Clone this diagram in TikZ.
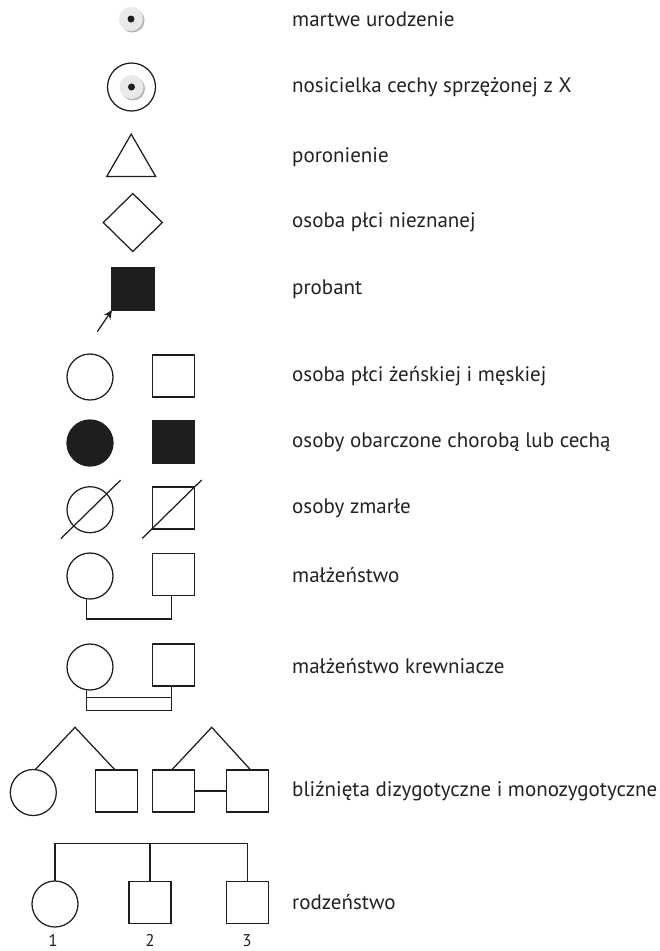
\documentclass[tikz,border=0pt]{standalone}
\usepackage{fontspec}
\setmainfont{PT Sans}
\usetikzlibrary{shapes.geometric,arrows.meta}
\definecolor{ink}{HTML}{1E1E1E}
\definecolor{txt}{HTML}{222222}
\definecolor{pale}{HTML}{E9E9E9}
\definecolor{shade}{HTML}{B4B4B4}
\tikzset{
  sym/.style={draw=ink, line width=1.25pt, inner sep=0pt, outer sep=0pt},
  fem/.style={sym, circle, minimum size=46pt},
  mal/.style={sym, rectangle, minimum size=42pt},
  filled/.style={fill=ink},
  lab/.style={anchor=west, inner sep=0pt, text=txt, font=\fontsize{21}{24}\selectfont},
  num/.style={anchor=base, inner sep=0pt, text=txt, font=\fontsize{17}{20}\selectfont},
  ln/.style={draw=ink, line width=1.25pt},
  dotc/.style={circle, fill=pale, minimum size=24pt, inner sep=0pt},
  dotsh/.style={circle, fill=shade, minimum size=24pt, inner sep=0pt},
  blk/.style={circle, fill=ink, minimum size=7pt, inner sep=0pt}
}
\begin{document}
\begin{tikzpicture}[x=1pt,y=-1pt]
\path[use as bounding box] (0,0) rectangle (660,951);

% row 1: stillbirth
\node[dotsh] (sb1s) at (132.5,20.5) {};
\node[dotc] (sb1) at (131,19) {};
\node[blk] (sb1d) at (131,19) {};
\node[lab] (l1) at (292,19) {martwe urodzenie};

% row 2: carrier
\node[fem, minimum size=48pt] (car) at (131.5,87) {};
\node[dotsh] (car2s) at (133,88.5) {};
\node[dotc] (car2) at (131.5,87) {};
\node[blk] (car2d) at (131.5,87) {};
\node[lab] (l2) at (292,87) {nosicielka cechy sprzężonej z X};

% row 3: miscarriage
\node[sym, regular polygon, regular polygon sides=3, minimum size=56.6pt] (tri) at (131.2,162.4) {};
\node[lab] (l3) at (292,157) {poronienie};

% row 4: unknown sex
\node[sym, diamond, minimum width=59pt, minimum height=58pt] (dia) at (132.8,222.5) {};
\node[lab] (l4) at (292,222) {osoba płci nieznanej};

% row 5: proband
\node[mal, filled] (prob) at (133,289) {};
\coordinate (probt) at (97.3,331.7);
\draw[ln, -{Stealth[length=9pt,width=8pt]}] (probt) -- (prob.south west);
\node[lab] (l5) at (292,289) {probant};

% row 6
\node[fem] (c6) at (90,377) {};
\node[mal] (s6) at (173.3,376) {};
\node[lab] (l6) at (292,376) {osoba płci żeńskiej i męskiej};

% row 7
\node[fem, filled] (c7) at (90,443) {};
\node[mal, filled] (s7) at (173.3,442) {};
\node[lab] (l7) at (292,442) {osoby obarczone chorobą lub cechą};

% row 8
\node[fem] (c8) at (90,509.7) {};
\node[mal] (s8) at (173.3,508) {};
\draw[ln] ([shift={(-29.2,29)}]c8.center) -- ([shift={(30.5,-29.5)}]c8.center);
\draw[ln] ([shift={(-31,30.3)}]s8.center) -- ([shift={(28.4,-28)}]s8.center);
\node[lab] (l8) at (292,508) {osoby zmarłe};

% row 9: marriage
\node[fem] (c9) at (90,576) {};
\node[mal] (s9) at (173.3,574.3) {};
\coordinate (j9) at (0,619);
\draw[ln] (c9.-98) -- (c9.-98 |- j9) -| ([xshift=-1.6pt]s9.south);
\node[lab] (l9) at (292,575) {małżeństwo};

% row 10: consanguineous marriage
\node[fem] (c10) at (90,667) {};
\node[mal] (s10) at (173.3,665) {};
\coordinate (j10a) at (0,697.7);
\coordinate (j10b) at (0,710.7);
\draw[ln] (c10.-98) -- (c10.-98 |- j10b) -| ([xshift=-1.6pt]s10.south);
\draw[ln] (c10.-98 |- j10a) -- ([xshift=-1.6pt]s10.south |- j10a);
\node[lab] (l10) at (292,666) {małżeństwo krewniacze};

% row 11: twins
\node[fem] (t1) at (33.3,792.5) {};
\node[mal] (t2) at (116.7,791) {};
\node[mal] (t3) at (173.2,791) {};
\node[mal] (t4) at (247.5,791) {};
\coordinate (ap1) at (75,727.3);
\coordinate (ap2) at (211.7,727.3);
\draw[ln] (t1.85) -- (ap1) -- ([xshift=-1.6pt]t2.north);
\draw[ln] ([xshift=-1.5pt]t3.north) -- (ap2) -- ([xshift=3.2pt]t4.north);
\draw[ln] (t3.east) -- (t4.west);
\node[lab] (l11) at (292,791) {bliźnięta dizygotyczne i monozygotyczne};

% row 12: siblings
\node[fem] (r1) at (55,904) {};
\node[mal] (r2) at (150,902.5) {};
\node[mal] (r3) at (247.5,902.5) {};
\coordinate (bar) at (0,843.3);
\draw[ln] (r1.north) -- (r1.north |- bar) -- (r3.north |- bar) -- (r3.north);
\draw[ln] (r2.north) -- (r2.north |- bar);
\node[lab] (l12) at (292,902) {rodzeństwo};
\node[num] (n1) at (53,946) {1};
\node[num] (n2) at (150,946) {2};
\node[num] (n3) at (247,946) {3};
\end{tikzpicture}
\end{document}
